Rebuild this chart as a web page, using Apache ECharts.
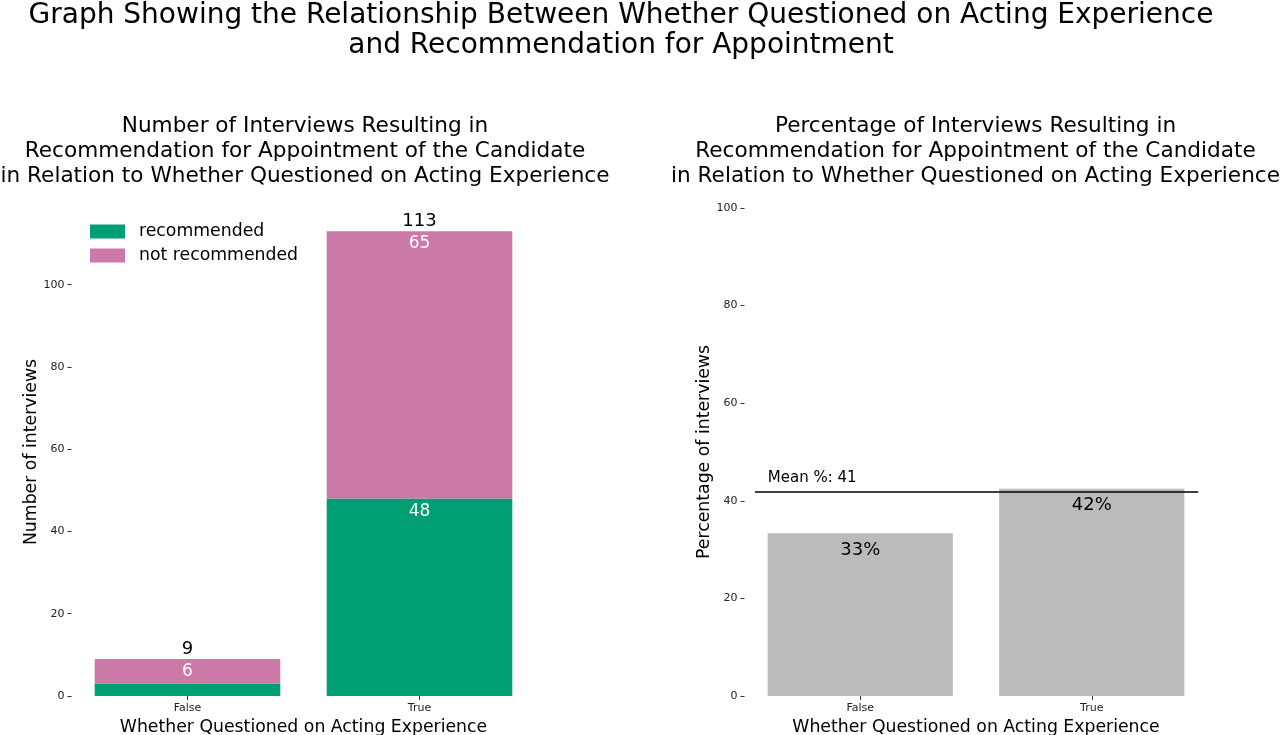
<!DOCTYPE html>
<html>
<head>
<meta charset="utf-8">
<script src="https://cdn.jsdelivr.net/npm/echarts@6/dist/echarts.min.js"></script>
<style>html,body{margin:0;padding:0;background:#fff}#c{width:1280px;height:735px}</style>
</head>
<body>
<div id="c"></div>
<script>
const categories = ['False', 'True'];
const recommended = [3, 48];
const notRecommended = [6, 65];
const yTicksCount = [0, 20, 40, 60, 80, 100];
const yTicksPct = [0, 20, 40, 60, 80, 100];

const totals = categories.map((_, i) => recommended[i] + notRecommended[i]);
const pct = categories.map((_, i) => recommended[i] / totals[i] * 100);
const meanPct = recommended.reduce((a, b) => a + b, 0) / totals.reduce((a, b) => a + b, 0) * 100;

const FONT = 'DejaVu Sans';
const GREEN = '#009E73', PINK = '#CC79A7', GRAY = '#BBBBBB';

const chart = echarts.init(document.getElementById('c'), null, {renderer: 'canvas'});

const subTitleStyle = {fontFamily: FONT, fontSize: 21.6, fontWeight: 'normal', color: '#000', lineHeight: 25};

const commonY = {
  type: 'value', min: 0,
  axisLine: {show: false, onZero: false},
  splitLine: {show: false},
  axisTick: {show: true, length: 4, lineStyle: {color: '#333'}},
  axisLabel: {fontFamily: FONT, fontSize: 11, color: '#222', margin: 7},
  nameLocation: 'middle',
  nameTextStyle: {fontFamily: FONT, fontSize: 17.3, color: '#000'}
};
const commonX = {
  type: 'category', data: categories,
  axisLine: {show: false, onZero: false},
  axisTick: {show: true, alignWithLabel: true, length: 4, lineStyle: {color: '#333'}},
  axisLabel: {fontFamily: FONT, fontSize: 11, color: '#222', margin: 7},
  name: 'Whether Questioned on Acting Experience',
  nameLocation: 'middle', nameGap: 18,
  nameTextStyle: {fontFamily: FONT, fontSize: 17.3, color: '#000'}
};

chart.setOption({
  animation: false,
  title: [
    {text: 'Graph Showing the Relationship Between Whether Questioned on Acting Experience\nand Recommendation for Appointment',
     left: 621, top: 1, textAlign: 'center', padding: 0,
     textStyle: {fontFamily: FONT, fontSize: 28, fontWeight: 'normal', color: '#000', lineHeight: 30}},
    {text: 'Number of Interviews Resulting in\nRecommendation for Appointment of the Candidate\nin Relation to Whether Questioned on Acting Experience',
     left: 305, top: 113.5, textAlign: 'center', padding: 0, textStyle: subTitleStyle},
    {text: 'Percentage of Interviews Resulting in\nRecommendation for Appointment of the Candidate\nin Relation to Whether Questioned on Acting Experience',
     left: 975.5, top: 113.5, textAlign: 'center', padding: 0, textStyle: subTitleStyle}
  ],
  legend: {
    data: ['recommended', 'not recommended'],
    orient: 'vertical', left: 90, top: 223, itemWidth: 35, itemHeight: 14, itemGap: 7, padding: 0,
    icon: 'rect',
    textStyle: {fontFamily: FONT, fontSize: 17.3, color: '#000', lineHeight: 14, padding: [0, 0, 0, 9]}
  },
  grid: [
    {left: 71.5, top: 208, width: 464, height: 488, outerBoundsMode: 'none', containLabel: false},
    {left: 744.5, top: 208, width: 463, height: 488, outerBoundsMode: 'none', containLabel: false}
  ],
  xAxis: [
    Object.assign({gridIndex: 0}, commonX),
    Object.assign({gridIndex: 1}, commonX),
    {type: 'value', gridIndex: 1, min: -0.5, max: 1.5, show: false}
  ],
  yAxis: [
    Object.assign({}, commonY, {gridIndex: 0, max: Math.max(...totals) * 1.05, name: 'Number of interviews', nameGap: 29,
      axisLabel: Object.assign({}, commonY.axisLabel, {customValues: yTicksCount}),
      axisTick: Object.assign({}, commonY.axisTick, {customValues: yTicksCount})}),
    Object.assign({}, commonY, {gridIndex: 1, max: 100, name: 'Percentage of interviews', nameGap: 31.5,
      axisLabel: Object.assign({}, commonY.axisLabel, {customValues: yTicksPct}),
      axisTick: Object.assign({}, commonY.axisTick, {customValues: yTicksPct})})
  ],
  series: [
    {name: 'recommended', type: 'bar', stack: 'a', xAxisIndex: 0, yAxisIndex: 0, barWidth: '80%',
     itemStyle: {color: GREEN},
     data: recommended.map(v => ({value: v, label: {show: v >= 5}})),
     label: {position: 'insideTop', distance: 4, color: '#fff', fontFamily: FONT, fontSize: 17}},
    {name: 'not recommended', type: 'bar', stack: 'a', xAxisIndex: 0, yAxisIndex: 0, barWidth: '80%',
     itemStyle: {color: PINK},
     data: notRecommended,
     label: {show: true, position: 'insideTop', distance: 4, color: '#fff', fontFamily: FONT, fontSize: 17}},
    {name: 'total', type: 'bar', xAxisIndex: 0, yAxisIndex: 0, barWidth: '80%', barGap: '-100%', silent: true,
     itemStyle: {color: 'rgba(0,0,0,0)'}, z: 0,
     data: totals,
     label: {show: true, position: 'top', distance: 1, color: '#000', fontFamily: FONT, fontSize: 18}},
    {name: 'pct', type: 'bar', xAxisIndex: 1, yAxisIndex: 1, barWidth: '80%',
     itemStyle: {color: GRAY},
     data: pct,
     label: {show: true, position: 'insideTop', distance: 8, color: '#000', fontFamily: FONT, fontSize: 18,
       formatter: p => Math.round(p.value) + '%'}},
    {name: 'mean', type: 'line', xAxisIndex: 2, yAxisIndex: 1, z: 5,
     symbol: 'circle', symbolSize: 0.1, silent: true,
     lineStyle: {color: '#000', width: 1.5},
     data: [
       {value: [-0.455, meanPct], label: {show: true, position: [13, -21], align: 'left', color: '#000',
         fontFamily: FONT, fontSize: 15, formatter: () => 'Mean %: ' + Math.floor(meanPct)}},
       {value: [1.46, meanPct]}
     ]}
  ]
});
</script>
</body>
</html>
